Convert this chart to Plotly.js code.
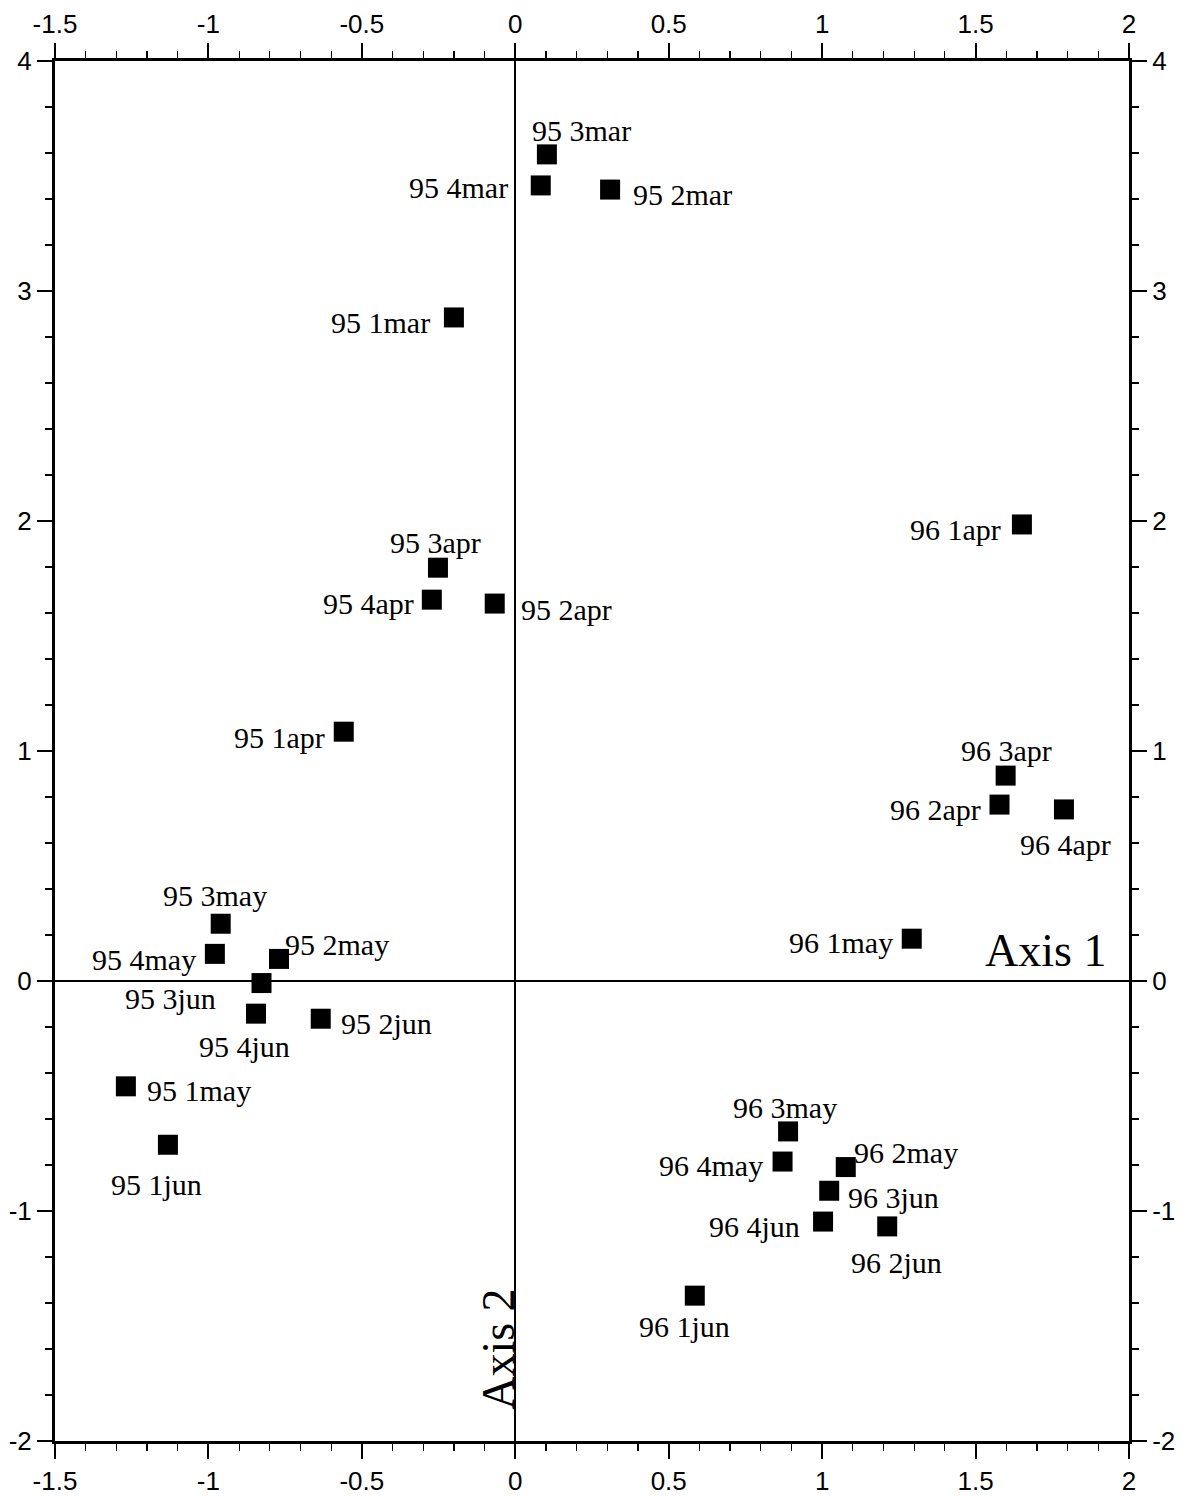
<!DOCTYPE html>
<html>
<head>
<meta charset="utf-8">
<script src="https://cdn.plot.ly/plotly-3.0.1.min.js"></script>
<style>html,body{margin:0;padding:0;background:#fff;}#chart{width:1188px;height:1496px;}</style>
</head>
<body>
<div id="chart"></div>
<script>
// ---- data ----
const labels = ["95 3mar","95 4mar","95 2mar","95 1mar",
  "95 3apr","95 4apr","95 2apr","95 1apr",
  "95 3may","95 4may","95 2may","95 3jun","95 4jun","95 2jun","95 1may","95 1jun",
  "96 1apr","96 3apr","96 2apr","96 4apr","96 1may",
  "96 3may","96 4may","96 2may","96 3jun","96 4jun","96 2jun","96 1jun"];
const axis1 = [0.103,0.083,0.309,-0.200,
  -0.252,-0.272,-0.067,-0.559,
  -0.960,-0.979,-0.770,-0.827,-0.845,-0.634,-1.269,-1.132,
  1.651,1.598,1.578,1.788,1.292,
  0.889,0.871,1.077,1.023,1.003,1.212,0.585];
const axis2 = [3.594,3.459,3.441,2.885,
  1.797,1.658,1.641,1.084,
  0.249,0.118,0.096,-0.009,-0.142,-0.164,-0.458,-0.712,
  1.985,0.893,0.767,0.746,0.184,
  -0.654,-0.785,-0.809,-0.912,-1.046,-1.067,-1.368];
const xTicks = [-1.5,-1,-0.5,0,0.5,1,1.5,2];
const xTickText = ["-1.5","-1","-0.5","0","0.5","1","1.5","2"];
const yTicks = [-2,-1,0,1,2,3,4];
const yTickText = ["-2","-1","0","1","2","3","4"];

// ---- label placement (anchor side, pixel offsets from marker centre) ----
const labelPlace = [
  ["center",35,-24],["right",-31,2],["left",21,5],["right",-22,5],
  ["center",-2,-25],["right",-16,4],["left",24,6],["right",-17,6],
  ["center",-6,-28],["right",-17,6],["left",4,-14],["right",-44,15],["center",-11,33],["left",18,5],["left",19,4],["center",-11,40],
  ["right",-19,5],["center",1,-25],["right",-17,5],["center",2,35],["right",-17,4],
  ["center",-3,-24],["right",-18,4],["left",6,-15],["left",17,7],["right",-21,5],["center",9,36],["center",-10,31]
];

const serif = "Liberation Serif, Times New Roman, serif";
const sans = "Liberation Sans, Arial, Helvetica, sans-serif";

const annotations = labels.map((t,i)=>({
  x: axis1[i], y: axis2[i], xref:"x", yref:"y",
  text: t, showarrow:false,
  xanchor: labelPlace[i][0], yanchor:"middle",
  xshift: labelPlace[i][1], yshift: -labelPlace[i][2],
  font:{family:serif, size:30, color:"#000"}
}));
annotations.push({x:1.93, y:0.0, xref:"x", yref:"y", text:"Axis 1", showarrow:false,
  xanchor:"right", yanchor:"bottom", yshift:3, font:{family:serif,size:46,color:"#000"}});
annotations.push({x:0, y:-1.6, xref:"x", yref:"y", text:"Axis 2", showarrow:false,
  textangle:-90, xanchor:"right", yanchor:"middle", xshift:10, font:{family:serif,size:46,color:"#000"}});

const traces = [
  {x:axis1, y:axis2, type:"scatter", mode:"markers", hoverinfo:"skip",
   marker:{symbol:"square", size:20, color:"#000", line:{width:0}}},
  {x:[xTicks[0]], y:[yTicks[0]], xaxis:"x2", yaxis:"y2", type:"scatter", mode:"markers",
   marker:{opacity:0}, hoverinfo:"skip", showlegend:false}
];

const common = {
  showgrid:false, showline:true, linecolor:"#000", linewidth:3,
  ticks:"outside", ticklen:15, tickwidth:2, tickcolor:"#000",
  tickfont:{family:sans, size:26, color:"#000"}
};

const layout = {
  width:1188, height:1496,
  margin:{l:55, r:59, t:61, b:55},
  paper_bgcolor:"#fff", plot_bgcolor:"#fff",
  showlegend:false,
  xaxis: Object.assign({}, common, {range:[-1.5,2], tickvals:xTicks, ticktext:xTickText,
    zeroline:true, zerolinecolor:"#000", zerolinewidth:2,
    minor:{dtick:0.1, ticklen:7, tickwidth:1.2, tickcolor:"#000", ticks:"outside", showgrid:false}}),
  yaxis: Object.assign({}, common, {range:[-2,4], tickvals:yTicks, ticktext:yTickText,
    zeroline:true, zerolinecolor:"#000", zerolinewidth:2,
    minor:{dtick:0.2, ticklen:7, tickwidth:1.2, tickcolor:"#000", ticks:"outside", showgrid:false}}),
  xaxis2: Object.assign({}, common, {range:[-1.5,2], tickvals:xTicks, ticktext:xTickText,
    overlaying:"x", side:"top", anchor:"y", zeroline:false,
    minor:{dtick:0.1, ticklen:7, tickwidth:1.2, tickcolor:"#000", ticks:"outside", showgrid:false}}),
  yaxis2: Object.assign({}, common, {range:[-2,4], tickvals:yTicks, ticktext:yTickText,
    overlaying:"y", side:"right", anchor:"x", zeroline:false,
    minor:{dtick:0.2, ticklen:7, tickwidth:1.2, tickcolor:"#000", ticks:"outside", showgrid:false}}),
  annotations: annotations
};

Plotly.newPlot("chart", traces, layout, {displayModeBar:false, staticPlot:true});
</script>
</body>
</html>
